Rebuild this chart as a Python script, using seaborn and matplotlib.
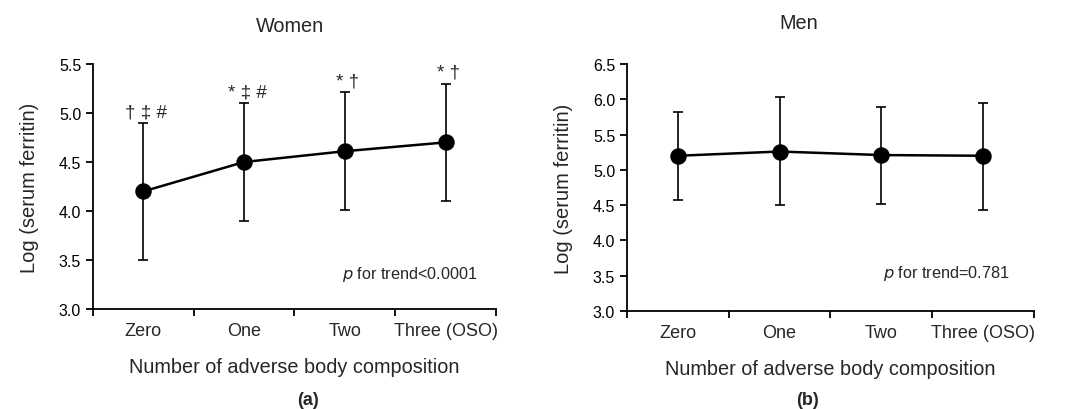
import numpy as np
import pandas as pd
import matplotlib
matplotlib.use("Agg")
import matplotlib.pyplot as plt
import seaborn as sns

categories = ["Zero", "One", "Two", "Three (OSO)"]

women_mean = [4.20, 4.50, 4.61, 4.70]
women_sd = [0.70, 0.60, 0.60, 0.60]
women_marks = ["\u2020 \u2021 #", "* \u2021 #", "* \u2020", "* \u2020"]

men_mean = [5.20, 5.26, 5.21, 5.20]
men_sd_upper = [0.62, 0.77, 0.68, 0.75]
men_sd_lower = [0.62, 0.76, 0.69, 0.77]

sns.set_style("ticks")
plt.rcParams["font.family"] = ["Liberation Sans", "DejaVu Sans"]
plt.rcParams["axes.linewidth"] = 1.3
plt.rcParams["xtick.major.width"] = 1.3
plt.rcParams["ytick.major.width"] = 1.3

fig = plt.figure(figsize=(10.65, 4.1), dpi=100)
ax1 = fig.add_axes([0.0873, 0.2439, 0.3784, 0.5976])
ax2 = fig.add_axes([0.5887, 0.2390, 0.3822, 0.6024])


def draw_panel(ax, mean, lower, upper, ylim, yticks, ptext, ptext_xy):
    df = pd.DataFrame({"group": categories, "value": mean})
    ax.errorbar(range(len(categories)), mean, yerr=[lower, upper], fmt="none",
                ecolor="black", elinewidth=1.2, capsize=3.5, capthick=1.2, zorder=1)
    sns.pointplot(data=df, x="group", y="value", order=categories, color="black",
                  errorbar=None, markers="o", markersize=10.5, linewidth=1.8, ax=ax)
    ax.set_xlim(-0.5, 3.5)
    ax.set_ylim(*ylim)
    ax.set_yticks(yticks)
    ax.set_yticklabels([f"{t:.1f}" for t in yticks])
    ax.set_xticks(np.arange(-0.5, 4, 1))
    ax.set_xticklabels([])
    ax.set_xticks(range(len(categories)), minor=True)
    ax.set_xticklabels(categories, minor=True)
    ax.tick_params(axis="x", which="major", length=5, direction="out", colors="black")
    ax.tick_params(axis="x", which="minor", length=0, labelsize=13, pad=9)
    ax.tick_params(axis="y", length=5, labelsize=11.5, colors="black")
    ax.set_xlabel("Number of adverse body composition", fontsize=14.3, labelpad=13)
    ax.set_ylabel("Log (serum ferritin)", fontsize=14.5, labelpad=14)
    for s in ["top", "right"]:
        ax.spines[s].set_visible(False)
    for s in ["left", "bottom"]:
        ax.spines[s].set_color("black")
    ax.text(ptext_xy[0], ptext_xy[1], ptext, transform=ax.transAxes,
            fontsize=11.7, ha="right", va="center")


draw_panel(ax1, women_mean, women_sd, women_sd, (3.0, 5.5),
           [3.0, 3.5, 4.0, 4.5, 5.0, 5.5],
           r"$\it{p}$ for trend<0.0001", (0.955, 0.145))
for i, m in enumerate(women_marks):
    ax1.annotate(m, (i, women_mean[i] + women_sd[i]), xytext=(2, 2),
                 textcoords="offset points", ha="center", va="bottom", fontsize=13.5)

draw_panel(ax2, men_mean, men_sd_lower, men_sd_upper, (3.0, 6.5),
           [3.0, 3.5, 4.0, 4.5, 5.0, 5.5, 6.0, 6.5],
           r"$\it{p}$ for trend=0.781", (0.94, 0.157))

fig.text(0.272, 0.935, "Women", fontsize=14.3, ha="center", va="center")
fig.text(0.750, 0.942, "Men", fontsize=14.3, ha="center", va="center")
fig.text(0.289, 0.022, "(a)", fontsize=13, fontweight="bold", ha="center", va="center")
fig.text(0.758, 0.022, "(b)", fontsize=13, fontweight="bold", ha="center", va="center")

fig.savefig("out.png", dpi=100)
